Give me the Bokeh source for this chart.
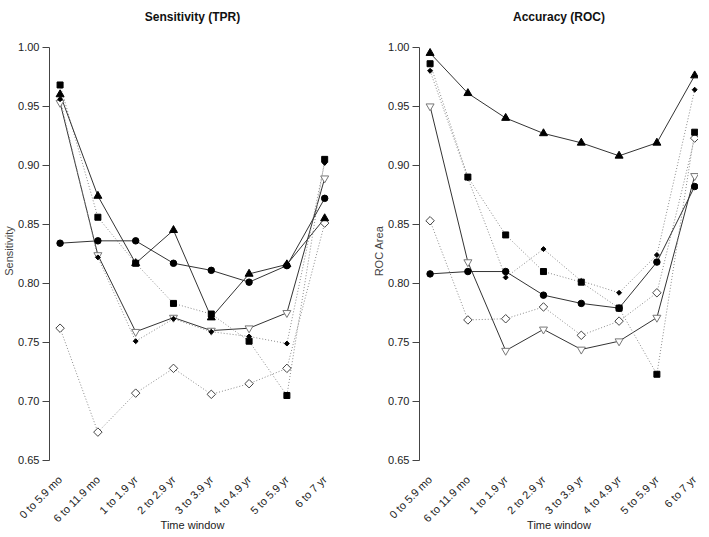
from math import pi
from bokeh.plotting import figure
from bokeh.layouts import row
from bokeh.models import FixedTicker, Range1d
from bokeh.embed import file_html
from bokeh.resources import INLINE

# ---------------- data ----------------
categories = ["0 to 5.9 mo", "6 to 11.9 mo", "1 to 1.9 yr", "2 to 2.9 yr",
              "3 to 3.9 yr", "4 to 4.9 yr", "5 to 5.9 yr", "6 to 7 yr"]
y_ticks = [0.65, 0.70, 0.75, 0.80, 0.85, 0.90, 0.95, 1.00]

# Sensitivity (TPR)
sens_circle   = [0.834, 0.836, 0.836, 0.817, 0.811, 0.801, 0.815, 0.872]
sens_triangle = [0.960, 0.874, 0.817, 0.845, 0.771, 0.808, 0.816, 0.855]
sens_downtri  = [0.953, 0.824, 0.759, 0.771, 0.760, 0.762, 0.775, 0.889]
sens_square   = [0.968, 0.856, 0.817, 0.783, 0.774, 0.751, 0.705, 0.905]
sens_dot      = [0.956, 0.822, 0.751, 0.770, 0.759, 0.755, 0.749, 0.902]
sens_diamond  = [0.762, 0.674, 0.707, 0.728, 0.706, 0.715, 0.728, 0.851]

# Accuracy (ROC area)
roc_circle   = [0.808, 0.810, 0.810, 0.790, 0.783, 0.779, 0.818, 0.882]
roc_triangle = [0.995, 0.961, 0.940, 0.927, 0.919, 0.908, 0.919, 0.976]
roc_downtri  = [0.950, 0.818, 0.743, 0.761, 0.744, 0.751, 0.771, 0.891]
roc_square   = [0.986, 0.890, 0.841, 0.810, 0.801, 0.779, 0.723, 0.928]
roc_dot      = [0.980, 0.889, 0.805, 0.829, 0.802, 0.792, 0.824, 0.964]
roc_diamond  = [0.853, 0.769, 0.770, 0.780, 0.756, 0.768, 0.792, 0.923]

# ---------------- styles ----------------
FONT = "Liberation Sans"
SOLID = "#333333"
DOTTED = "#8a8a8a"
styles = {
    "diamond":  dict(marker="square", angle=pi / 4, size=6, fill="white", edge="#444444", lc=DOTTED, dash="1 2"),
    "downtri":  dict(marker="inverted_triangle", angle=0, size=8, fill="white", edge="#777777", lc=SOLID, dash="solid"),
    "square":   dict(marker="square", angle=0, size=6, fill="black", edge="black", lc=DOTTED, dash="1 2"),
    "dot":      dict(marker="square", angle=pi / 4, size=3.5, fill="black", edge="black", lc=DOTTED, dash="1 2"),
    "triangle": dict(marker="triangle", angle=0, size=8, fill="black", edge="black", lc=SOLID, dash="solid"),
    "circle":   dict(marker="circle", angle=0, size=6.5, fill="black", edge="black", lc=SOLID, dash="solid"),
}
order = ["diamond", "downtri", "square", "dot", "triangle", "circle"]

x_idx = list(range(1, len(categories) + 1))

TOP = 27
FRAME_H = 441
BOTTOM = 53
PXX = 37.8          # px per category step
PXY = 1180.7        # px per unit of y
Y_END = 1.0 + 16.7 / PXY
Y_START = Y_END - FRAME_H / PXY
X0 = 0.72


def panel(title, ylabel, series, frame_w, left, right):
    p = figure(frame_width=frame_w, frame_height=FRAME_H,
               output_backend="svg", toolbar_location=None,
               x_range=Range1d(X0, X0 + frame_w / PXX),
               y_range=Range1d(Y_START, Y_END),
               min_border_left=left, min_border_right=right,
               min_border_top=TOP, min_border_bottom=BOTTOM)
    p.outline_line_color = None
    p.xgrid.grid_line_color = None
    p.ygrid.grid_line_color = None
    p.background_fill_color = "white"
    p.border_fill_color = "white"

    p.title.text = title
    p.title.align = "center"
    p.title.text_font = FONT
    p.title.text_font_size = "12px"
    p.title.text_font_style = "bold"
    p.title.text_color = "#111111"
    p.title.standoff = 14

    # y axis
    ya = p.yaxis[0]
    ya.ticker = FixedTicker(ticks=y_ticks)
    ya.major_label_overrides = {t: f"{t:.2f}" for t in y_ticks}
    ya.bounds = (y_ticks[0], y_ticks[-1])
    ya.axis_line_color = "#444444"
    ya.major_tick_line_color = "#444444"
    ya.major_tick_out = 7
    ya.major_tick_in = 0
    ya.minor_tick_line_color = None
    ya.major_label_standoff = 3
    ya.major_label_text_font = FONT
    ya.major_label_text_font_size = "11px"
    ya.major_label_text_color = "#222222"
    ya.axis_label = ylabel
    ya.axis_label_text_font = FONT
    ya.axis_label_text_font_size = "11px"
    ya.axis_label_text_font_style = "normal"
    ya.axis_label_standoff = 0

    # x axis (rotated labels, no line)
    xa = p.xaxis[0]
    xa.ticker = FixedTicker(ticks=x_idx)
    xa.major_label_overrides = {i: c for i, c in zip(x_idx, categories)}
    xa.major_label_orientation = pi / 4
    xa.axis_line_color = None
    xa.major_tick_line_color = None
    xa.minor_tick_line_color = None
    xa.major_label_standoff = 0
    xa.major_label_text_font = FONT
    xa.major_label_text_font_size = "11px"
    xa.major_label_text_color = "#222222"
    xa.axis_label = "Time window"
    xa.axis_label_text_font = FONT
    xa.axis_label_text_font_size = "11px"
    xa.axis_label_text_font_style = "normal"
    xa.axis_label_text_color = "#222222"
    xa.axis_label_standoff = -13

    for key in order:
        st = styles[key]
        p.line(x_idx, series[key], line_color=st["lc"], line_width=1, line_dash=st["dash"])
    for key in order:
        st = styles[key]
        p.scatter(x_idx, series[key], marker=st["marker"], angle=st["angle"], size=st["size"],
                  fill_color=st["fill"], line_color=st["edge"], line_width=1)
    return p


sens = {"circle": sens_circle, "triangle": sens_triangle, "downtri": sens_downtri,
        "square": sens_square, "dot": sens_dot, "diamond": sens_diamond}
roc = {"circle": roc_circle, "triangle": roc_triangle, "downtri": roc_downtri,
       "square": roc_square, "dot": roc_dot, "diamond": roc_diamond}

p1 = panel("Sensitivity (TPR)", "Sensitivity", sens, frame_w=286, left=44, right=24)
p2 = panel("Accuracy (ROC)", "ROC Area", roc, frame_w=279, left=60, right=0)

layout = row(p1, p2)
open("out.html", "w").write(file_html(layout, INLINE))
